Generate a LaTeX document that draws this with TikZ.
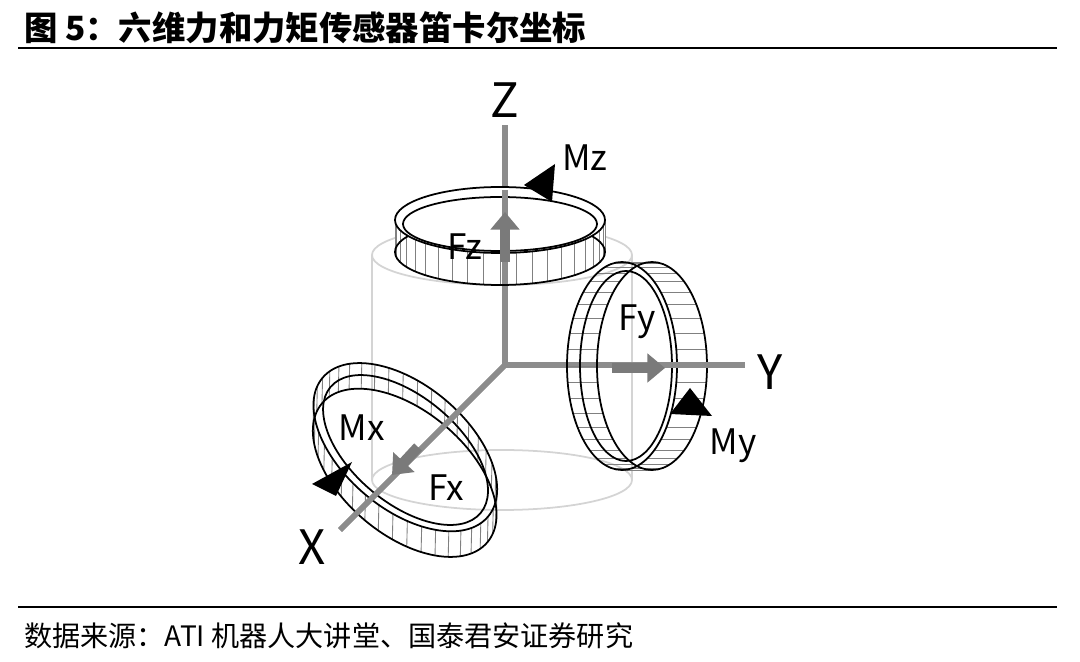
\documentclass[tikz,border=0pt]{standalone}
\usepackage{fontspec}
\setmainfont{Noto Sans CJK SC}
\usetikzlibrary{arrows.meta}
\definecolor{axisgray}{HTML}{8C8C8C}
\definecolor{cylgray}{HTML}{D4D4D4}
\definecolor{forcegray}{HTML}{7A7A7A}
\tikzset{
  axis/.style={axisgray,line width=3.2pt},
  cyl/.style={cylgray,line width=1pt},
  ring/.style={black,line width=1pt,fill=white},
  hatch/.style={gray,line width=0.5pt},
  force/.style={forcegray,line width=6pt,-{Triangle[length=10pt,width=16pt]}},
  moment/.style={fill=black},
  lbl/.style={font=\fontsize{20}{22}\selectfont},
  axlbl/.style={font=\fontsize{27}{29}\selectfont}
}
\begin{document}
\begin{tikzpicture}[x=0.02cm,y=-0.02cm]
  \useasboundingbox (0,0) rectangle (1080,662);
  % title and source
  \node[anchor=west,font=\fontsize{19}{21}\selectfont\bfseries] (title) at (18,28) {图 5：六维力和力矩传感器笛卡尔坐标};
  \draw[line width=1.2pt] (18,48) -- (1057,48);
  \draw[line width=0.8pt] (18,607) -- (1057,607);
  \node[anchor=west,font=\fontsize{16}{18}\selectfont] (source) at (18,636) {数据来源：ATI 机器人大讲堂、国泰君安证券研究};

  % faint cylinder
  \draw[cyl] (372,255) -- (372,480);
  \draw[cyl] (632,255) -- (632,480);
  \draw[cyl] (502,255) ellipse (130 and 30);
  \draw[cyl] (502,480) ellipse (130 and 30);

  % axes
  \coordinate (O) at (505,365);
  \coordinate (zEnd) at (505,125);
  \coordinate (yEnd) at (745,365);
  \coordinate (xEnd) at (340,530);
  \draw[axis] (O) -- (zEnd);
  \draw[axis] (O) -- (yEnd);
  \draw[axis] (O) -- (xEnd);
  \node[axlbl] (zlbl) at (505,100) {Z};
  \node[axlbl] (ylbl) at (770,372) {Y};
  \node[axlbl] (xlbl) at (312,547) {X};

  % Z ring
  \fill[white] (395,220) -- (395,252) arc (180:360:105 and 33) -- (605,220) arc (360:180:105 and 33) -- cycle;
  \foreach \t in {0,9,...,351}
    \draw[hatch] ({500+105*cos(\t)},{220+33*sin(\t)}) -- ({500+105*cos(\t)},{252+33*sin(\t)});
  \draw[ring,fill=none] (500,252) ellipse (105 and 33);
  \draw[ring] (500,220) ellipse (105 and 33);
  \draw[ring,fill=none] (500,224) ellipse (97 and 27);
  \draw[axis] (505,190) -- (505,255);
  \draw[force] (505,262) -- (505,212);
  \node[lbl] (fz) at (465,247) {Fz};
  \fill[moment] (524,185) -- (555,164) -- (552,202) -- cycle;
  \node[lbl] (mz) at (585,158) {Mz};

  % Y ring
  \foreach \t in {0,9,...,351}
    \draw[hatch] ({622+55*cos(\t)},{366+104*sin(\t)}) -- ({652+55*cos(\t)},{366+104*sin(\t)});
  \draw[ring,fill=none] (652,366) ellipse (55 and 104);
  \draw[ring,fill=none] (622,366) ellipse (55 and 104);
  \draw[ring,fill=none] (626,366) ellipse (46 and 95);
  \draw[axis] (600,365) -- (745,365);
  \draw[force] (612,368) -- (665,368);
  \node[lbl] (fy) at (637,322) {Fy};
  \fill[moment] (670,414) -- (690,388) -- (712,416) -- cycle;
  \node[lbl] (my) at (733,446) {My};

  % X ring
  \begin{scope}[shift={(405,460)},rotate=-40]
    \foreach \t in {0,9,...,351}
      \draw[hatch] ({-8+108*cos(\t)},{-10+62*sin(\t)}) -- ({8+108*cos(\t)},{10+62*sin(\t)});
    \draw[ring,fill=none] (8,10) ellipse (108 and 62);
    \draw[ring,fill=none] (-8,-10) ellipse (108 and 62);
    \draw[ring,fill=none] (-6,-8) ellipse (98 and 53);
  \end{scope}
  \draw[axis] (O) -- (xEnd);
  \draw[force] (418,447) -- (392,475);
  \node[lbl] (fx) at (446,488) {Fx};
  \fill[moment] (312,484) -- (352,462) -- (336,496) -- cycle;
  \node[lbl] (mx) at (362,428) {Mx};
\end{tikzpicture}
\end{document}
